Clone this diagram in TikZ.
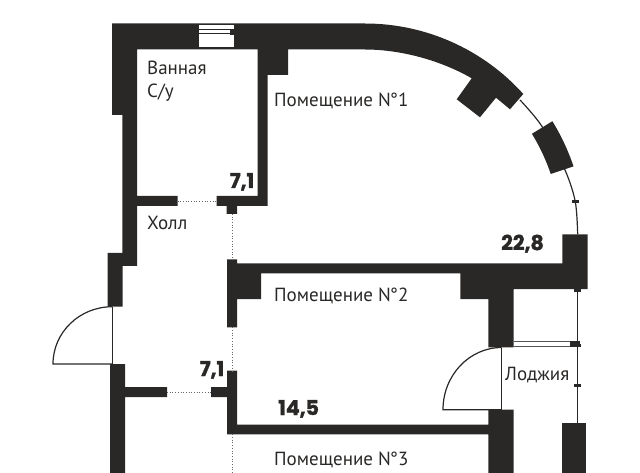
\documentclass[tikz,border=0pt]{standalone}
\usepackage{fontspec}
\setmainfont{PT Sans}
\newfontfamily\numfont[BoldFeatures={FakeBold=1.6}]{Poppins}
\definecolor{wallcol}{HTML}{2A2826}
\tikzset{%
  wall/.style = {fill=wallcol, draw=none},
  thin/.style = {draw=wallcol, line width=1.2pt},
  hinge/.style = {draw=wallcol, line width=0.9pt},
  gap/.style = {draw=wallcol!70, line width=0.7pt, dotted},
  room/.style = {anchor=base west, text=wallcol, font=\fontsize{19}{22}\selectfont, inner sep=0pt},
  area/.style = {anchor=base west, text=wallcol, font=\numfont\bfseries\fontsize{20.5}{22}\selectfont, inner sep=0pt}
}
\begin{document}
\begin{tikzpicture}[x=1pt, y=-1pt]
    \useasboundingbox (0,0) rectangle (640,473);

    % walls
    \fill[wall] (112,23.5) -- (365,23.5) arc[start angle=-90, end angle=-42, radius=213] -- (510,109.3)
        -- (496,97.7) -- (480,117.3) -- (456.7,99.3) -- (471.7,78.3) .. controls (440,60) and (400,49.5) .. (365,49.5)
        -- (288,49.5) -- (288,75) -- (267.7,75) -- (267.7,206) -- (237,206) -- (237,214) -- (226.7,214) -- (226.7,206)
        -- (216.7,206) -- (216.7,196) -- (257.7,196) -- (257.7,49.5) -- (137,49.5) -- (137,196) -- (177.5,196)
        -- (177.5,206) -- (137,206) -- (137,266) -- (122.7,266) -- (122.7,306.7) -- (107.7,306.7) -- (107.7,253)
        -- (122.4,253) -- (122.4,115) -- (112,115) -- cycle;
    \fill[wall] (227,259.3) -- (237,259.3) -- (237,263.3) -- (562.3,263.3) -- (562.3,234.3) -- (587.7,234.3)
        -- (587.7,289) -- (513.7,289) -- (513.7,347.3) -- (488.3,347.3) -- (488.3,299) -- (460.3,299) -- (460.3,273.3)
        -- (261,273.3) -- (261,299) -- (237,299) -- (237,327.3) -- (227,327.3) -- cycle;
    \fill[wall] (110,364) -- (125,364) -- (125,387) -- (167,387) -- (167,397) -- (125,397) -- (125,473) -- (110,473) -- cycle;
    \fill[wall] (227,370.7) -- (237,370.7) -- (237,424.5) -- (488.3,424.5) -- (488.3,409.7) -- (513.7,409.7)
        -- (513.7,473) -- (488.3,473) -- (488.3,434.3) -- (227,434.3) -- (227,397) -- (211,397) -- (211,387) -- (227,387) -- cycle;
    \fill[wall] (561.7,422.7) rectangle (586,473);
    \fill[wall] (365,236.5) ++(-31.6:196) arc[start angle=-31.6, end angle=-18.6, radius=196]
        -- ++(-18.6:24) arc[start angle=-18.6, end angle=-31.6, radius=220] -- cycle;

    % windows
    \fill[white] (199.3,25) rectangle (233.5,47.3);
    \draw[wallcol, line width=0.8pt] (199.3,29.8) -- (230,29.8) (199.3,33.6) -- (230,33.6);
    \fill[wall] (230,29) rectangle (233.5,35);
    \draw[wallcol!80, line width=0.7pt] (513.7,341.7) -- (570,341.7) (513.7,346.2) -- (570,346.2);
    \fill[wall] (570,341) rectangle (580,347.3);

    % bay line
    \draw[thin] plot[smooth] coordinates {(520,100) (541.7,126) (565,170) (575.3,201.7) (577.7,234.3)};
    \draw[thin] (577.3,289) -- (577.3,422.7);
    \foreach \yy in {290.5,345.7,385.3}
      \fill[wall] (573.7,\yy-1.5) rectangle (581,\yy+1.5);
    \fill[wall] (571.7,200.2) rectangle (579,203.2);

    % doors
    \draw[hinge] (112.3,306.7) -- (112.3,364);
    \draw[thin] (112.3,364) -- (53,364) arc[start angle=-180, end angle=-90, x radius=59.3, y radius=57.3];
    \draw[hinge] (501.7,347.5) -- (501.7,409.7);
    \draw[thin] (501.7,409.7) -- (443,409.7) arc[start angle=-180, end angle=-90, x radius=58.7, y radius=62.2];

    % openings
    \draw[gap] (177.5,201) -- (216.7,201);
    \draw[gap] (167,392) -- (211,392);
    \draw[gap] (232.3,214) -- (232.3,259.3);
    \draw[gap] (232.3,327.3) -- (232.3,370.7);
    \draw[gap] (232.3,434.3) -- (232.3,473);

    % labels
    \node (bath)   [room] at (147,75)  {Ванная};
    \node (wc)     [room] at (147,97.3)  {С/у};
    \node (hall)   [room] at (147,230) {Холл};
    \node (loggia) [room] at (505,380) {Лоджия};
    \node (room1)  [room] at (274,106.7) {Помещение N\kern-1pt°1};
    \node (room2)  [room] at (274,301.7) {Помещение N\kern-1pt°2};
    \node (room3)  [room] at (274,465) {Помещение N\kern-1pt°3};
    \node (area1)  [area] at (229.5,188) {7,1};
    \node (area2)  [area] at (199.5,376) {7,1};
    \node (area3)  [area] at (501,250) {22,8};
    \node (area4)  [area] at (278,415) {14,5};
\end{tikzpicture}
\end{document}
